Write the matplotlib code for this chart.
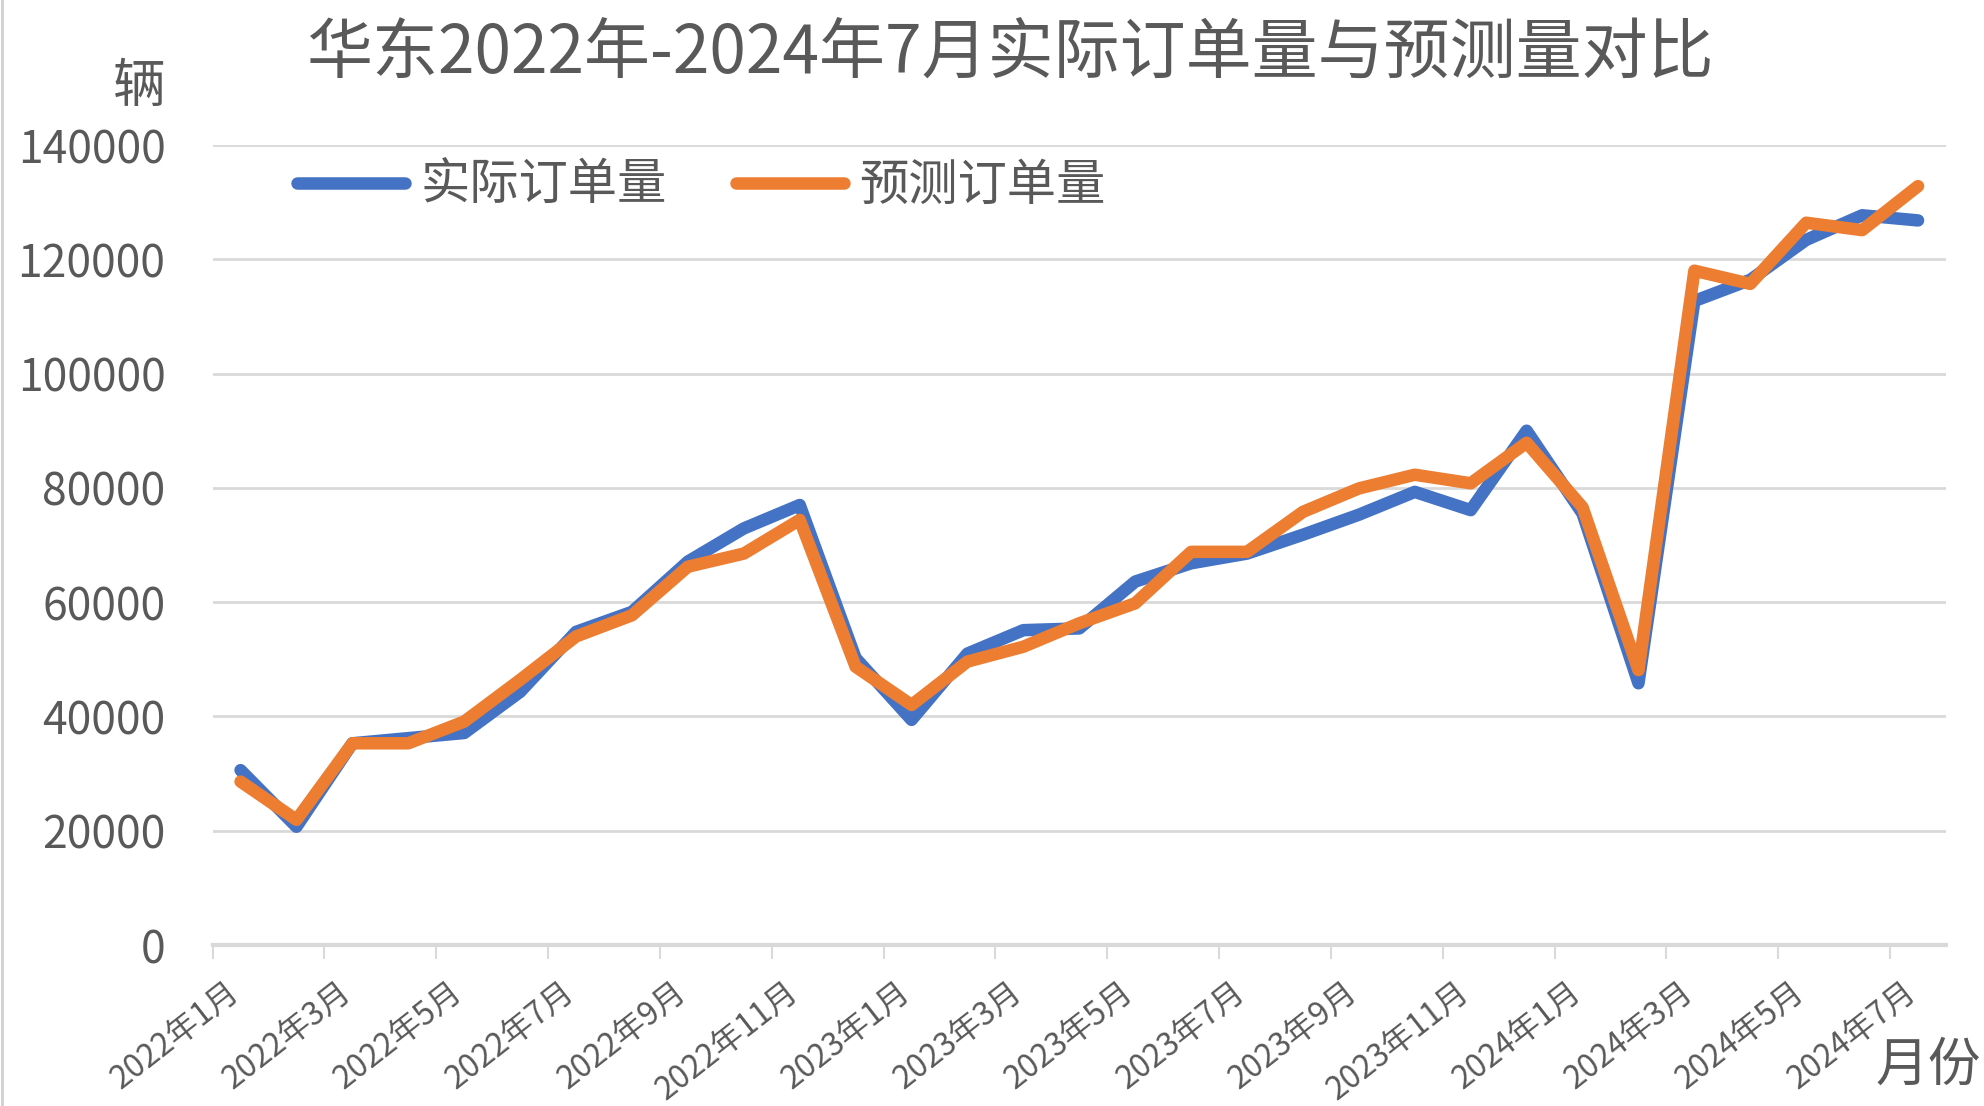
import matplotlib
matplotlib.use("Agg")
import matplotlib.pyplot as plt
from matplotlib.lines import Line2D
from matplotlib.transforms import ScaledTranslation
import numpy as np

plt.rcParams['font.family'] = ['Noto Sans CJK SC', 'DejaVu Sans']

months = ['2022年1月', '2022年2月', '2022年3月', '2022年4月', '2022年5月', '2022年6月',
          '2022年7月', '2022年8月', '2022年9月', '2022年10月', '2022年11月', '2022年12月',
          '2023年1月', '2023年2月', '2023年3月', '2023年4月', '2023年5月', '2023年6月',
          '2023年7月', '2023年8月', '2023年9月', '2023年10月', '2023年11月', '2023年12月',
          '2024年1月', '2024年2月', '2024年3月', '2024年4月', '2024年5月', '2024年6月',
          '2024年7月']

actual = [30600, 20700, 35300, 36200, 37100, 44300, 54800, 58300, 67100, 72900, 77000,
          50200, 39400, 51000, 55100, 55400, 63600, 66800, 68500, 71800, 75300, 79300,
          76100, 90000, 75500, 45800, 112700, 116400, 123400, 127700, 126800]
forecast = [28600, 21900, 35300, 35300, 39100, 46400, 54000, 57700, 66200, 68500, 74400,
            48700, 42000, 49600, 52200, 56300, 59800, 68800, 68800, 75800, 79900, 82300,
            80800, 87900, 76600, 48100, 118000, 115700, 126400, 125100, 132800]

yticks = [0, 20000, 40000, 60000, 80000, 100000, 120000, 140000]

blue = '#4472C4'
orange = '#ED7D31'
grey_text = '#595959'
grid_c = '#D9D9D9'

W, H = 1984, 1106
fig = plt.figure(figsize=(W / 100, H / 100), dpi=100)
ax = fig.add_axes([212.6 / W, 1 - 945 / H, (1946 - 212.6) / W, (945 - 145) / H])

x = np.arange(len(months))
ax.plot(x, actual, color=blue, lw=9, solid_capstyle='round', solid_joinstyle='round',
        label='实际订单量', zorder=3)
ax.plot(x, forecast, color=orange, lw=9, solid_capstyle='round', solid_joinstyle='round',
        label='预测订单量', zorder=4)

ax.set_xlim(-0.5, len(months) - 0.5)
ax.set_ylim(0, 140000)

# y axis
ax.set_yticks(yticks)
ax.set_yticklabels([str(v) for v in yticks])
ax.tick_params(axis='y', length=0, pad=34, labelsize=32, labelcolor=grey_text)
ax.grid(axis='y', color=grid_c, lw=2)
ax.set_axisbelow(True)

# x axis: labels at every other category, tick marks at boundaries
ax.set_xticks(x[::2])
ax.set_xticklabels(months[::2], rotation=38, ha='right', va='top', rotation_mode='anchor')
ax.tick_params(axis='x', which='major', length=0, pad=22, labelsize=23, labelcolor=grey_text)
shift = ScaledTranslation(-0.15, 0, fig.dpi_scale_trans)
for lab in ax.get_xticklabels():
    lab.set_transform(lab.get_transform() + shift)
ax.set_xticks(np.arange(-0.5, len(months) - 1, 2), minor=True)
ax.tick_params(axis='x', which='minor', length=10, width=1.5, color=grid_c)

for s in ['top', 'right', 'left']:
    ax.spines[s].set_visible(False)
ax.spines['bottom'].set_color(grid_c)
ax.spines['bottom'].set_linewidth(3)

fig.text(1011 / W, 1 - 55 / H, '华东2022年-2024年7月实际订单量与预测量对比',
         ha='center', va='center', fontsize=47.5, color=grey_text)
fig.text(139 / W, 1 - 86 / H, '辆', ha='center', va='center', fontsize=38, color=grey_text)
fig.text(1928 / W, 1 - 1065 / H, '月份', ha='center', va='center', fontsize=38, color=grey_text)

leg = fig.legend(loc='center left', bbox_to_anchor=(297 / W, 1 - 186 / H), ncol=2,
                 frameon=False, fontsize=35.5, handlelength=2.2, handletextpad=0.3,
                 columnspacing=1.4, borderpad=0, borderaxespad=0)
for t in leg.get_texts():
    t.set_color(grey_text)
for h in leg.get_lines():
    h.set_linewidth(9)
    h.set_solid_capstyle('round')

# thin grey border on left edge
fig.add_artist(Line2D([0.001, 0.001], [0, 1], transform=fig.transFigure, color='#D0D0D0', lw=2))

fig.savefig('out.png', dpi=100)
